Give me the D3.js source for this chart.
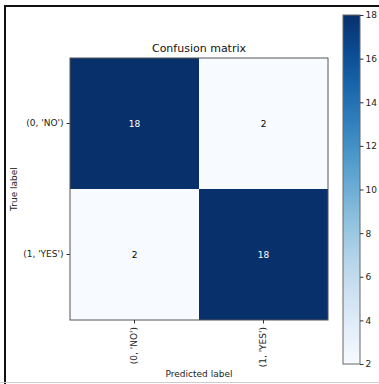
<!DOCTYPE html>
<html>
<head>
<meta charset="utf-8">
<script src="https://cdn.jsdelivr.net/npm/d3@7"></script>
<style>
  body { margin: 0; background: #fff; }
  text { font-family: "DejaVu Sans", sans-serif; }
</style>
</head>
<body>
<div id="chart"></div>
<script>
// Data
const classNames = ["(0, 'NO')", "(1, 'YES')"]
const trueRows = [0, 1]
const predCols = [0, 1]
const cellValues = [
    [18, 2],
    [2, 18],
]
const colorTicks = [2, 4, 6, 8, 10, 12, 14, 16, 18]

const width = 379
const height = 384
const plot = { left: 70, top: 58, right: 328, bottom: 320 }
const bar = { left: 343, right: 360, top: 15, bottom: 364 }

const svg = d3.select('#chart').append('svg')
    .attr('width', width)
    .attr('height', height)

// frame
svg.append('path')
    .attr('d', `M5,${height} V6 H${width}`)
    .attr('fill', 'none')
    .attr('stroke', '#111')
    .attr('stroke-width', 2)
svg.append('line')
    .attr('x1', 0).attr('x2', width)
    .attr('y1', height - 1.5).attr('y2', height - 1.5)
    .attr('stroke', '#ccc')
    .attr('stroke-width', 1)

const allVals = cellValues.flat()
const vmin = d3.min(allVals), vmax = d3.max(allVals)
const color = d3.scaleSequential(d3.interpolateBlues).domain([vmin, vmax])

const x = d3.scaleBand().domain(predCols).range([plot.left, plot.right])
const y = d3.scaleBand().domain(trueRows).range([plot.top, plot.bottom])

const cells = []
trueRows.forEach(r => predCols.forEach(c => cells.push({ r, c, v: cellValues[r][c] })))

svg.append('g').selectAll('rect')
    .data(cells)
    .join('rect')
    .attr('x', d => x(d.c))
    .attr('y', d => y(d.r))
    .attr('width', x.bandwidth())
    .attr('height', y.bandwidth())
    .attr('fill', d => color(d.v))

const thresh = vmax / 2
svg.append('g').selectAll('text')
    .data(cells)
    .join('text')
    .attr('x', d => x(d.c) + x.bandwidth() / 2)
    .attr('y', d => y(d.r) + y.bandwidth() / 2)
    .attr('text-anchor', 'middle')
    .attr('dominant-baseline', 'central')
    .attr('font-size', 9)
    .attr('fill', d => d.v > thresh ? 'white' : 'black')
    .text(d => d.v)

// plot frame
svg.append('rect')
    .attr('x', plot.left).attr('y', plot.top)
    .attr('width', plot.right - plot.left)
    .attr('height', plot.bottom - plot.top)
    .attr('fill', 'none')
    .attr('stroke', '#555')
    .attr('stroke-width', 1)

// y axis
const yAxis = svg.append('g')
    .attr('transform', `translate(${plot.left},0)`)
    .call(d3.axisLeft(y).tickFormat(d => classNames[d]).tickSize(3.5).tickPadding(3))
yAxis.select('.domain').remove()
yAxis.selectAll('line').attr('stroke', '#333')
yAxis.selectAll('text').attr('font-size', 9).attr('fill', '#222').style('font-family', 'DejaVu Sans')

// x axis
const xAxis = svg.append('g')
    .attr('transform', `translate(0,${plot.bottom})`)
    .call(d3.axisBottom(x).tickFormat(d => classNames[d]).tickSize(3.5).tickPadding(3))
xAxis.select('.domain').remove()
xAxis.selectAll('line').attr('stroke', '#333')
xAxis.selectAll('text')
    .attr('font-size', 9).attr('fill', '#222').style('font-family', 'DejaVu Sans')
    .attr('transform', 'rotate(-90)')
    .attr('text-anchor', 'end')
    .attr('x', -7)
    .attr('y', 0)
    .attr('dy', '0.32em')

// titles
svg.append('text')
    .attr('x', (plot.left + plot.right) / 2)
    .attr('y', plot.top - 6)
    .attr('text-anchor', 'middle')
    .attr('font-size', 11)
    .attr('fill', '#111')
    .text('Confusion matrix')

svg.append('text')
    .attr('x', (plot.left + plot.right) / 2)
    .attr('y', 377)
    .attr('text-anchor', 'middle')
    .attr('font-size', 9)
    .attr('fill', '#222')
    .text('Predicted label')

svg.append('text')
    .attr('transform', `translate(17,${(plot.top + plot.bottom) / 2}) rotate(-90)`)
    .attr('text-anchor', 'middle')
    .attr('font-size', 9)
    .attr('fill', '#222')
    .text('True label')

// colorbar
const defs = svg.append('defs')
const grad = defs.append('linearGradient')
    .attr('id', 'cbar')
    .attr('x1', 0).attr('y1', 1).attr('x2', 0).attr('y2', 0)
d3.range(0, 1.0001, 0.1).forEach(t => {
    grad.append('stop')
        .attr('offset', t)
        .attr('stop-color', color(vmin + t * (vmax - vmin)))
})
svg.append('rect')
    .attr('x', bar.left).attr('y', bar.top)
    .attr('width', bar.right - bar.left)
    .attr('height', bar.bottom - bar.top)
    .attr('fill', 'url(#cbar)')
    .attr('stroke', '#666')
    .attr('stroke-width', 1)

const cy = d3.scaleLinear().domain([vmin, vmax]).range([bar.bottom, bar.top])
const cAxis = svg.append('g')
    .attr('transform', `translate(${bar.right},0)`)
    .call(d3.axisRight(cy).tickValues(colorTicks).tickSize(3.5).tickPadding(2))
cAxis.select('.domain').remove()
cAxis.selectAll('line').attr('stroke', '#333')
cAxis.selectAll('text').attr('font-size', 9).attr('fill', '#222').style('font-family', 'DejaVu Sans')
</script>
</body>
</html>
